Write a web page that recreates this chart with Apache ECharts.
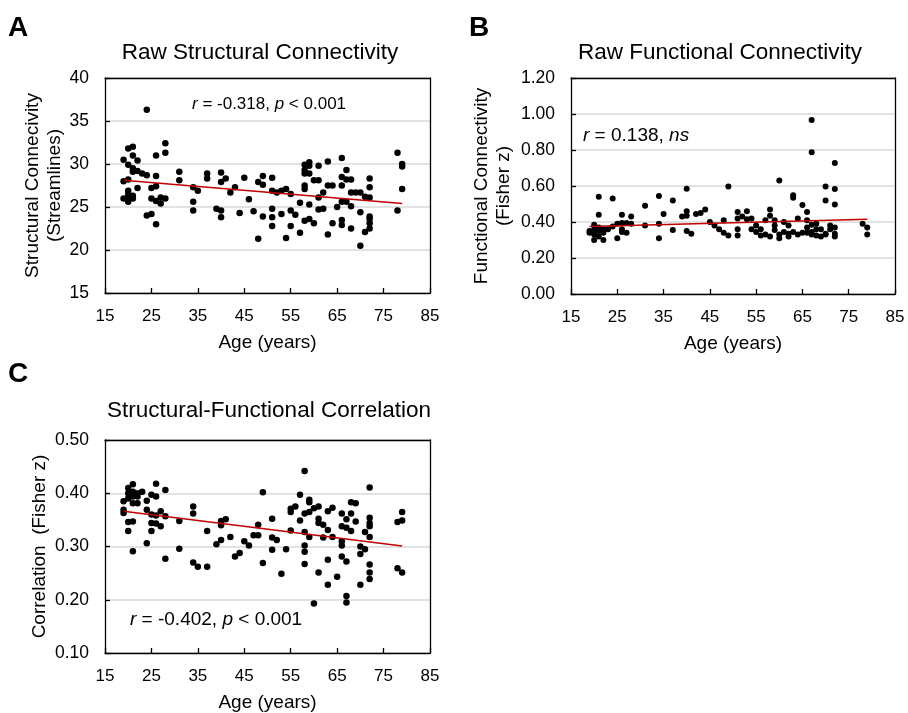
<!DOCTYPE html>
<html>
<head>
<meta charset="utf-8">
<script src="https://cdn.jsdelivr.net/npm/echarts@6/dist/echarts.min.js"></script>
<style>html,body{margin:0;padding:0;background:#fff}#c{width:908px;height:713px}</style>
</head>
<body>
<div id="c"></div>
<script>
// ---------- Data ----------
const xTicks = [15, 25, 35, 45, 55, 65, 75, 85];

// Panel A: Raw Structural Connectivity (Streamlines)
const ageA = [24,19,20,21,21,22,20,21,21,22,23,24,19,20,20,20,20,21,19,20,21,22,24,25,26,26,28,28,26,25,26,25,26,27,28,27,31,31,34,34,34,35,37,37,39,40,40,40,40,41,42,43,44,45,46,47,48,48,49,49,49,
  51,51,52,51,51,51,53,54,55,53,54,55,55,56,57,57,58,58,58,58,58,59,59,59,59,58,59,60,61,61,63,61,61,62,60,62,63,64,63,64,65,66,67,66,67,66,66,67,66,66,68,69,70,71,72,68,68,68,70,70,71,72,72,72,72,72,72,78,79,79,79,78];
const valA = [36.3,30.5,31.8,32.0,31.0,30.4,29.9,29.5,29.1,29.2,28.9,28.7,28.0,28.2,26.9,26.5,26.1,26.3,26.0,25.6,26.0,27.2,24.0,24.2,23.0,31.0,32.4,31.3,28.6,27.2,27.4,26.0,25.7,25.4,26.0,26.1,29.1,28.1,27.3,25.6,24.6,26.9,28.9,28.3,24.8,24.6,23.8,29.0,27.9,28.3,26.7,27.3,24.3,28.4,25.9,24.5,21.3,27.9,28.6,27.6,23.9,
  28.4,26.9,26.7,24.8,23.8,22.8,26.9,27.1,26.5,24.2,21.4,24.6,22.8,24.1,25.5,22.0,29.9,29.3,28.9,27.5,27.1,30.2,29.8,28.9,25.3,23.4,23.6,28.1,28.1,29.8,30.3,26.1,24.7,24.8,23.1,26.7,27.5,27.5,21.8,23.1,25.0,30.7,29.3,28.5,28.2,27.5,25.6,25.6,23.5,22.9,26.7,26.7,26.7,26.2,26.1,25.1,22.5,28.2,24.4,20.5,22.1,22.5,23.1,23.6,23.9,28.3,27.3,31.3,30.0,29.7,27.1,24.6];
const trendA = [[19, 28.1], [79, 25.4]];

// Panel B: Raw Functional Connectivity (Fisher z)
const ageB = [19,19,20,20,20,20,21,21,21,22,22,22,21,21,24,23,24,25,26,27,28,28,26,25,26,27,26,31,31,34,35,34,34,37,37,39,40,40,40,40,41,42,43,44,45,46,47,48,49,48,49,
  51,51,51,51,52,53,53,54,54,55,56,57,58,58,59,59,60,61,61,62,62,63,60,63,63,64,65,66,66,66,67,67,68,68,67,67,69,70,71,72,72,70,70,72,72,72,78,79,79,
  57,58,59,60,62,64,65,66,67,68,69,70,71,72,55,56];
const valB = [0.35,0.34,0.36,0.385,0.33,0.30,0.35,0.37,0.32,0.34,0.36,0.30,0.54,0.44,0.53,0.36,0.375,0.39,0.395,0.395,0.43,0.39,0.44,0.31,0.345,0.34,0.36,0.49,0.38,0.545,0.445,0.39,0.31,0.52,0.355,0.43,0.435,0.585,0.46,0.35,0.335,0.445,0.45,0.47,0.40,0.38,0.36,0.34,0.325,0.41,0.597,
  0.455,0.42,0.36,0.325,0.43,0.46,0.415,0.42,0.36,0.345,0.325,0.41,0.47,0.435,0.41,0.355,0.31,0.40,0.345,0.38,0.335,0.345,0.63,0.548,0.535,0.42,0.495,0.455,0.41,0.37,0.385,0.345,0.36,0.325,0.967,0.787,0.36,0.335,0.38,0.335,0.32,0.597,0.52,0.584,0.497,0.728,0.39,0.37,0.33,
  0.33,0.32,0.38,0.33,0.32,0.33,0.34,0.34,0.33,0.39,0.32,0.33,0.36,0.37,0.38,0.36];
const trendB = [[19, 0.375], [79, 0.415]];

// Panel C: Structural-Functional Correlation (Fisher z)
const ageC = [19,19,19,20,21,20,21,22,22,23,21,21,22,20,20,21,20,21,24,24,24,26,25,26,25,26,27,25,26,27,25,28,28,28,31,31,34,34,34,35,37,37,39,40,40,40,41,42,43,44,45,46,47,48,48,49,49,
  51,51,52,53,51,54,55,55,55,56,57,57,58,58,59,59,59,60,61,58,58,58,58,59,61,61,62,63,64,60,61,63,65,63,63,62,64,66,66,67,67,68,68,66,66,66,67,68,69,69,67,67,70,71,70,71,72,72,72,72,70,72,72,72,72,78,79,79,78,79];
const valC = [0.385,0.369,0.363,0.41,0.417,0.40,0.403,0.40,0.394,0.403,0.394,0.381,0.381,0.39,0.346,0.347,0.329,0.291,0.386,0.369,0.306,0.418,0.397,0.394,0.36,0.358,0.366,0.344,0.343,0.338,0.329,0.406,0.357,0.277,0.348,0.296,0.375,0.362,0.27,0.262,0.329,0.262,0.304,0.312,0.34,0.348,0.351,0.318,0.281,0.288,0.31,0.302,0.321,0.321,0.341,0.402,0.269,
  0.352,0.317,0.312,0.249,0.294,0.295,0.33,0.365,0.371,0.375,0.397,0.349,0.442,0.362,0.365,0.388,0.383,0.372,0.375,0.327,0.302,0.29,0.267,0.318,0.352,0.344,0.341,0.366,0.373,0.193,0.251,0.228,0.243,0.275,0.331,0.317,0.318,0.362,0.338,0.351,0.335,0.362,0.329,0.31,0.302,0.281,0.272,0.383,0.381,0.347,0.207,0.195,0.30,0.295,0.286,0.327,0.354,0.344,0.338,0.318,0.228,0.266,0.251,0.239,0.411,0.346,0.349,0.365,0.259,0.251];
const trendC = [[19, 0.366], [79, 0.301]];

// ---------- Chart ----------
const FONT = "'Liberation Sans', Arial, sans-serif";
const zip = (a, b) => a.map((v, i) => [v, b[i]]);
const LINE = { color: '#000', width: 1.3 };

function xAxis(gi) {
  return {
    gridIndex: gi, type: 'value', min: 15, max: 85, position: 'bottom',
    axisLine: { onZero: false, lineStyle: LINE },
    axisTick: { inside: true, length: 5, customValues: xTicks, lineStyle: LINE },
    axisLabel: { customValues: xTicks, color: '#000', fontSize: 17, fontFamily: FONT, margin: 15 },
    splitLine: { show: false },
    name: 'Age (years)', nameLocation: 'middle', nameGap: 40,
    nameTextStyle: { color: '#000', fontSize: 19, fontFamily: FONT }
  };
}
function xFrame(gi) {
  return { gridIndex: gi, type: 'value', min: 15, max: 85, position: 'top',
    axisLine: { show: true, onZero: false, lineStyle: LINE },
    axisTick: { show: false }, axisLabel: { show: false }, splitLine: { show: false } };
}
function yAxis(gi, min, max, interval, name, gap, dec) {
  return {
    gridIndex: gi, type: 'value', min, max, interval, position: 'left',
    axisLine: { show: true, onZero: false, lineStyle: LINE },
    axisTick: { show: true, inside: true, length: 5, lineStyle: LINE },
    axisLabel: { color: '#000', fontSize: 17.5, fontFamily: FONT, margin: 16,
      formatter: v => v.toFixed(dec) },
    splitLine: { show: true, lineStyle: { color: '#d9d9d9', width: 1.5 } },
    name, nameLocation: 'middle', nameGap: gap,
    nameTextStyle: { color: '#000', fontSize: 19, fontFamily: FONT, lineHeight: 22 }
  };
}
function yFrame(gi, min, max) {
  return { gridIndex: gi, type: 'value', min, max, position: 'right',
    axisLine: { show: true, onZero: false, lineStyle: LINE },
    axisTick: { show: false }, axisLabel: { show: false }, splitLine: { show: false } };
}
function scatter(gi, ages, vals, size) {
  return { type: 'scatter', xAxisIndex: gi, yAxisIndex: gi, data: zip(ages, vals),
    symbol: 'circle', symbolSize: size, itemStyle: { color: '#000', opacity: 1 }, silent: true, z: 3 };
}
function trend(gi, d) {
  return { type: 'line', xAxisIndex: gi, yAxisIndex: gi, data: d, symbol: 'none',
    lineStyle: { color: '#c00000', width: 1.5 }, silent: true, z: 4 };
}

const option = {
  animation: false,
  backgroundColor: '#fff',
  textStyle: { fontFamily: FONT },
  title: [
    { text: 'Raw Structural Connectivity', left: 255, top: 36, textAlign: 'center',
      textStyle: { fontSize: 22.5, fontWeight: 'normal', color: '#000', fontFamily: FONT } },
    { text: 'Raw Functional Connectivity', left: 715, top: 36, textAlign: 'center',
      textStyle: { fontSize: 22.5, fontWeight: 'normal', color: '#000', fontFamily: FONT } },
    { text: 'Structural-Functional Correlation', left: 264, top: 394, textAlign: 'center',
      textStyle: { fontSize: 22.5, fontWeight: 'normal', color: '#000', fontFamily: FONT } }
  ],
  grid: [
    { left: 105, top: 78, width: 325, height: 215 },
    { left: 571, top: 78, width: 324, height: 216 },
    { left: 105, top: 440, width: 325, height: 216 }
  ],
  xAxis: [xAxis(0), xAxis(1), xAxis(2), xFrame(0), xFrame(1), xFrame(2)],
  yAxis: [
    yAxis(0, 15, 40, 5, 'Structural Connecivity\n(Streamlines)', 34, 0),
    yAxis(1, 0, 1.2, 0.2, 'Functional Connectivity\n(Fisher z)', 56, 2),
    yAxis(2, 0.1, 0.5, 0.1, 'Correlation  (Fisher z)', 53, 2),
    yFrame(0, 15, 40), yFrame(1, 0, 1.2), yFrame(2, 0.1, 0.5)
  ],
  series: [
    scatter(0, ageA, valA, 6.5), trend(0, trendA),
    scatter(1, ageB, valB, 6), trend(1, trendB),
    scatter(2, ageC, valC, 6.5), trend(2, trendC)
  ],
  graphic: [
    { type: 'text', left: 8, top: 14, style: { text: 'A', font: "bold 28px " + FONT, fill: '#000' } },
    { type: 'text', left: 469, top: 14, style: { text: 'B', font: "bold 28px " + FONT, fill: '#000' } },
    { type: 'text', left: 8, top: 360, style: { text: 'C', font: "bold 28px " + FONT, fill: '#000' } },
    { type: 'text', left: 192, top: 96, style: { text: '{i|r} = -0.318, {i|p} < 0.001', font: "17px " + FONT, fill: '#000',
        rich: { i: { fontStyle: 'italic', fontSize: 17, fontFamily: FONT, fill: '#000' } } } },
    { type: 'text', left: 583, top: 126, style: { text: '{i|r} = 0.138, {i|ns}', font: "19px " + FONT, fill: '#000',
        rich: { i: { fontStyle: 'italic', fontSize: 19, fontFamily: FONT, fill: '#000' } } } },
    { type: 'text', left: 130, top: 610, style: { text: '{i|r} = -0.402, {i|p} < 0.001', font: "19px " + FONT, fill: '#000',
        rich: { i: { fontStyle: 'italic', fontSize: 19, fontFamily: FONT, fill: '#000' } } } }
  ]
};
const chart = echarts.init(document.getElementById('c'), null, { renderer: 'canvas' });
chart.setOption(option);
</script>
</body>
</html>
